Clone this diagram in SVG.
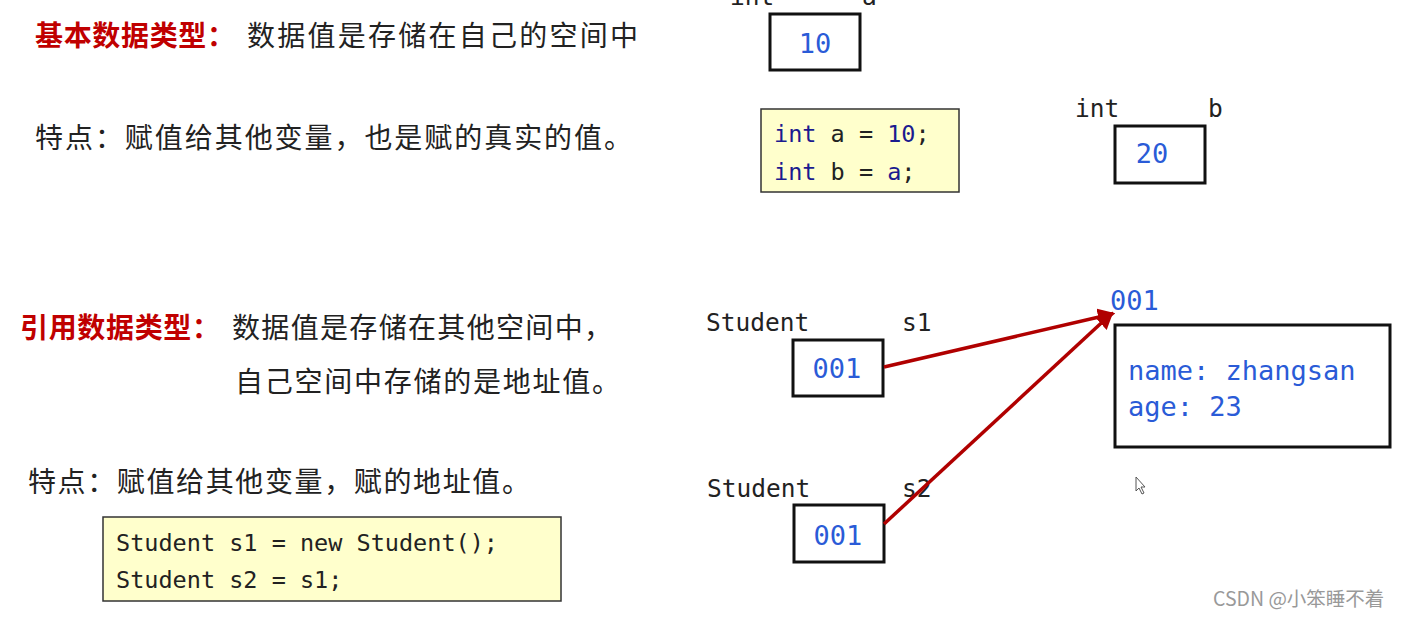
<svg xmlns="http://www.w3.org/2000/svg" width="1401" height="618" viewBox="0 0 1401 618">
<style>
.zh{font-family:"Noto Sans CJK SC","Noto Sans",sans-serif;font-size:28px;fill:#222}
.hd{font-family:"Noto Sans CJK SC","Noto Sans",sans-serif;font-size:28px;font-weight:bold;fill:#c00000}
.mono{font-family:"DejaVu Sans Mono","Liberation Mono",monospace}
.lbl{font-size:24.5px;fill:#222}
.val{font-size:27px;fill:#2a5bd7}
.code{font-size:23.5px;fill:#222}
.kw{fill:#1b1b8f}
.box{fill:#fff;stroke:#111;stroke-width:3}
.cbox{fill:#ffffcc;stroke:#333;stroke-width:1.5}
.arr{stroke:#b00000;stroke-width:3.5;fill:none;marker-end:url(#ah)}
</style>
<defs>
<marker id="ah" viewBox="0 0 10 10" refX="8" refY="5" markerWidth="5" markerHeight="5" orient="auto" markerUnits="strokeWidth">
<path d="M0,0 L10,5 L0,10 z" fill="#b00000"/>
</marker>
</defs>
<rect width="1401" height="618" fill="#fff"/>

<g id="text-basic">
<text class="hd" x="35" y="46" textLength="200">基本数据类型：</text>
<text class="zh" x="247" y="46" textLength="391">数据值是存储在自己的空间中</text>
<text class="zh" x="35" y="148" textLength="597">特点：赋值给其他变量，也是赋的真实的值。</text>
</g>

<g id="text-ref">
<text class="hd" x="20" y="338" textLength="200">引用数据类型：</text>
<text class="zh" x="232" y="338" textLength="380">数据值是存储在其他空间中，</text>
<text class="zh" x="235" y="392" textLength="385">自己空间中存储的是地址值。</text>
<text class="zh" x="28" y="492" textLength="502">特点：赋值给其他变量，赋的地址值。</text>
</g>

<g id="var-a">
<text class="mono lbl" x="730" y="5">int</text>
<text class="mono lbl" x="862" y="5">a</text>
<rect class="box" x="770" y="14" width="90" height="56"/>
<text class="mono val" x="815" y="53" text-anchor="middle">10</text>
</g>

<g id="code-basic">
<rect class="cbox" x="761" y="109" width="198" height="83"/>
<text class="mono code" x="774" y="142"><tspan class="kw">int</tspan> a = <tspan class="kw">10</tspan>;</text>
<text class="mono code" x="774" y="180"><tspan class="kw">int</tspan> b = <tspan class="kw">a</tspan>;</text>
</g>

<g id="var-b">
<text class="mono lbl" x="1075" y="117">int</text>
<text class="mono lbl" x="1208" y="117">b</text>
<rect class="box" x="1115" y="126" width="90" height="57"/>
<text class="mono val" x="1152" y="163" text-anchor="middle">20</text>
</g>

<g id="var-s1">
<text class="mono lbl" x="706" y="331">Student</text>
<text class="mono lbl" x="902" y="331">s1</text>
<rect class="box" x="793" y="340" width="90" height="56"/>
<text class="mono val" x="837" y="378" text-anchor="middle">001</text>
</g>

<g id="var-s2">
<text class="mono lbl" x="707" y="497">Student</text>
<text class="mono lbl" x="902" y="497">s2</text>
<rect class="box" x="794" y="505" width="90" height="57"/>
<text class="mono val" x="838" y="545" text-anchor="middle">001</text>
</g>

<g id="object">
<text class="mono val" x="1110" y="310">001</text>
<rect class="box" x="1115" y="325" width="275" height="122"/>
<text class="mono val" x="1128" y="380">name: zhangsan</text>
<text class="mono val" x="1128" y="416">age: 23</text>
</g>

<g id="code-ref">
<rect class="cbox" x="103" y="517" width="458" height="84"/>
<text class="mono code" x="116" y="551">Student s1 = new Student();</text>
<text class="mono code" x="116" y="588">Student s2 = s1;</text>
</g>

<g id="connectors">
<line class="arr" x1="884" y1="367" x2="1112" y2="314"/>
<line class="arr" x1="884" y1="524" x2="1111" y2="314"/>
</g>

<path d="M1136,477 L1136,491 L1139,488 L1142,494 L1144,493 L1141,487 L1145,487 Z" fill="#fff" stroke="#555" stroke-width="1"/>
<text x="1213" y="606" font-family="Noto Sans CJK SC,Noto Sans,sans-serif" font-size="19.5" fill="#999">CSDN @小笨睡不着</text>
</svg>
